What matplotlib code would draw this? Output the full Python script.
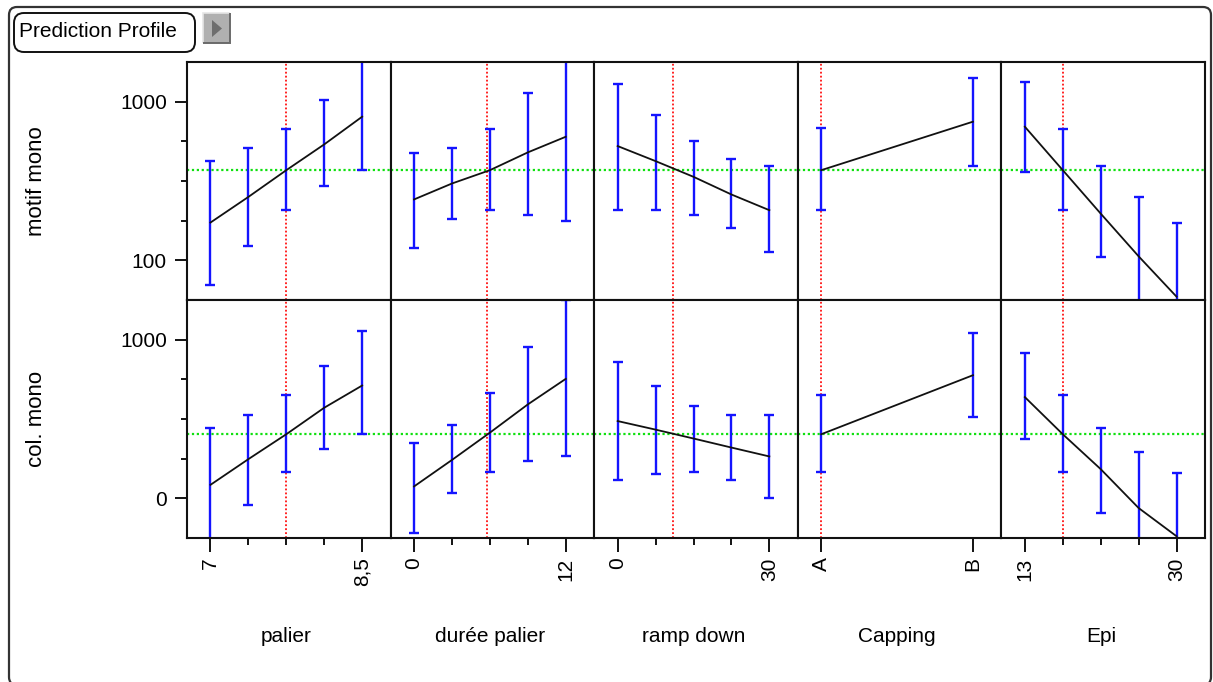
import numpy as np
import matplotlib.pyplot as plt
from matplotlib.patches import FancyBboxPatch, Rectangle, Polygon
from matplotlib.ticker import FixedLocator, NullFormatter

plt.rcParams['font.family'] = ['Liberation Sans', 'DejaVu Sans']

responses = ['motif mono', 'col. mono']
factors = ['palier', 'durée palier', 'ramp down', 'Capping', 'Epi']

# profile points along each factor
palier_x = [7, 7.375, 7.75, 8.125, 8.5]
duree_x = [0, 3, 6, 9, 12]
ramp_x = [0, 7.5, 15, 22.5, 30]
capping_x = ['A', 'B']
epi_x = [13, 17.25, 21.5, 25.75, 30]
factor_x = [palier_x, duree_x, ramp_x, capping_x, epi_x]

# tick labels at both ends of each factor
end_labels = [['7', '8,5'], ['0', '12'], ['0', '30'], ['A', 'B'], ['13', '30']]

# current settings (red) and predicted values at them (green)
current_x = [7.75, 5.8, 11, 'A', 17.25]
current_y = [370, 404]

# motif mono : prediction, lower, upper
motif_pred = [[173, 251, 370, 538, 804], [242, 305, 370, 479, 601],
              [525, 422, 336, 260, 207], [370, 748], [695, 370, 197, 106, 59]]
motif_lo = [[69.5, 124, 207, 295, 370], [120, 182, 207, 194, 176],
            [207, 207, 194, 160, 113], [207, 392], [358, 207, 105, 30, 20]]
motif_hi = [[420, 508, 675, 1029, 1900], [476, 508, 675, 1135, 2050],
            [1294, 824, 562, 433, 392], [679, 1418], [1326, 675, 392, 251, 171]]

# col. mono : prediction, lower, upper
col_pred = [[85, 247, 404, 571, 711], [75, 242, 414, 592, 753],
            [487, 433, 377, 320, 264], [404, 776], [638, 404, 184, -61, -239]]
col_lo = [[-276, -40, 167, 310, 404], [-220, 31, 167, 236, 266],
          [113, 154, 167, 113, 0], [167, 515], [377, 167, -94, -400, -600]]
col_hi = [[446, 525, 653, 832, 1052], [347, 460, 665, 956, 1247],
          [862, 707, 581, 525, 525], [653, 1042], [917, 650, 446, 291, 157]]

preds = [motif_pred, col_pred]
lows = [motif_lo, col_lo]
highs = [motif_hi, col_hi]

W, H = 1213, 682
fig = plt.figure(figsize=(W / 100, H / 100), dpi=100)
fig.patch.set_facecolor('white')

L, R, T, B = 187, 1205, 62, 538
gs = fig.add_gridspec(2, 5, left=L / W, right=R / W, top=1 - T / H, bottom=1 - B / H,
                      wspace=0, hspace=0)

BLUE = '#1414ff'
for r in range(2):
    for c in range(5):
        ax = fig.add_subplot(gs[r, c])
        xs = factor_x[c]
        if isinstance(xs[0], str):
            xpos = np.arange(len(xs), dtype=float)
            cur = xs.index(current_x[c])
        else:
            xpos = np.array(xs, dtype=float)
            cur = current_x[c]
        a, b = xpos[0], xpos[-1]
        ax.set_xlim(a - 23.5 / 152 * (b - a), b + 28.5 / 152 * (b - a))

        p = np.array(preds[r][c], dtype=float)
        lo = np.array(lows[r][c], dtype=float)
        hi = np.array(highs[r][c], dtype=float)

        ax.axvline(cur, color='#ff1010', lw=1.3, ls=(0, (1, 1.2)), zorder=1)
        ax.axhline(current_y[r], color='#10e010', lw=1.6, ls=(0, (1, 1.2)), zorder=1)
        ax.errorbar(xpos, p, yerr=[p - lo, hi - p], fmt='none', ecolor=BLUE,
                    elinewidth=1.7, capsize=3.4, capthick=1.7, zorder=2)
        ax.plot(xpos, p, color='#111111', lw=1.3, zorder=3)

        if r == 0:
            ax.set_yscale('log')
            ax.set_ylim(10 ** 1.75, 10 ** 3.25)
            ax.yaxis.set_major_locator(FixedLocator([100, 1000]))
            ax.yaxis.set_minor_locator(FixedLocator([177.8, 316.2, 562.3]))
            ax.set_yticklabels(['100', '1000'])
        else:
            ax.set_ylim(-250, 1250)
            ax.yaxis.set_major_locator(FixedLocator([0, 1000]))
            ax.yaxis.set_minor_locator(FixedLocator([250, 500, 750]))
            ax.set_yticklabels(['0', '1000'])
        ax.yaxis.set_minor_formatter(NullFormatter())

        ax.xaxis.set_major_locator(FixedLocator([a, b]))
        ax.xaxis.set_minor_locator(FixedLocator(list(xpos[1:-1])))
        ax.set_xticklabels(end_labels[c])
        ax.xaxis.set_minor_formatter(NullFormatter())

        ax.tick_params(axis='y', which='major', length=8.5, width=1.3, pad=6, labelsize=15)
        ax.tick_params(axis='y', which='minor', length=4.5, width=1.3)
        ax.tick_params(axis='x', which='major', length=10, width=1.3, pad=4,
                       labelsize=15, labelrotation=90)
        ax.tick_params(axis='x', which='minor', length=5, width=1.3)
        if c > 0:
            ax.tick_params(axis='y', which='both', left=False, labelleft=False)
        if r == 0:
            ax.tick_params(axis='x', which='both', bottom=False, labelbottom=False)
        for s in ax.spines.values():
            s.set_linewidth(1.5)
            s.set_color('#111111')

        if r == 1:
            xc = L + c * (R - L) / 5 + 99.5
            fig.text(xc / W, 1 - 637 / H, factors[c], ha='center', va='center', fontsize=15)

fig.text(37 / W, 1 - 181 / H, responses[0], rotation=90, ha='center', va='center', fontsize=16)
fig.text(37 / W, 1 - 419 / H, responses[1], rotation=90, ha='center', va='center', fontsize=16)

# outer frame and header
tr = fig.dpi_scale_trans
fig.patches.append(FancyBboxPatch((0.09, -0.03), 12.02, 6.78, boxstyle='round,pad=0,rounding_size=0.08',
                                  transform=tr, fill=False, lw=1.6, ec='#333333'))
fig.patches.append(FancyBboxPatch((0.14, 6.30), 1.81, 0.39, boxstyle='round,pad=0,rounding_size=0.1',
                                  transform=tr, fill=False, lw=1.4, ec='#111111'))
fig.text(0.19 / (W / 100), 6.505 / (H / 100), 'Prediction Profile', ha='left', va='center', fontsize=15)
fig.patches.append(Rectangle((2.03, 6.39), 0.27, 0.30, transform=tr, fc='#b0b0b0', ec='none'))
fig.patches.append(Polygon([(2.03, 6.39), (2.03, 6.69), (2.30, 6.69)], closed=False, transform=tr,
                           fill=False, ec='#e6e6e6', lw=1.2))
fig.patches.append(Polygon([(2.03, 6.39), (2.30, 6.39), (2.30, 6.69)], closed=False, transform=tr,
                           fill=False, ec='#6a6a6a', lw=1.4))
fig.patches.append(Polygon([(2.12, 6.45), (2.12, 6.62), (2.22, 6.535)], transform=tr,
                           fc='#6e6e6e', ec='none'))

fig.savefig('out.png', dpi=100)
